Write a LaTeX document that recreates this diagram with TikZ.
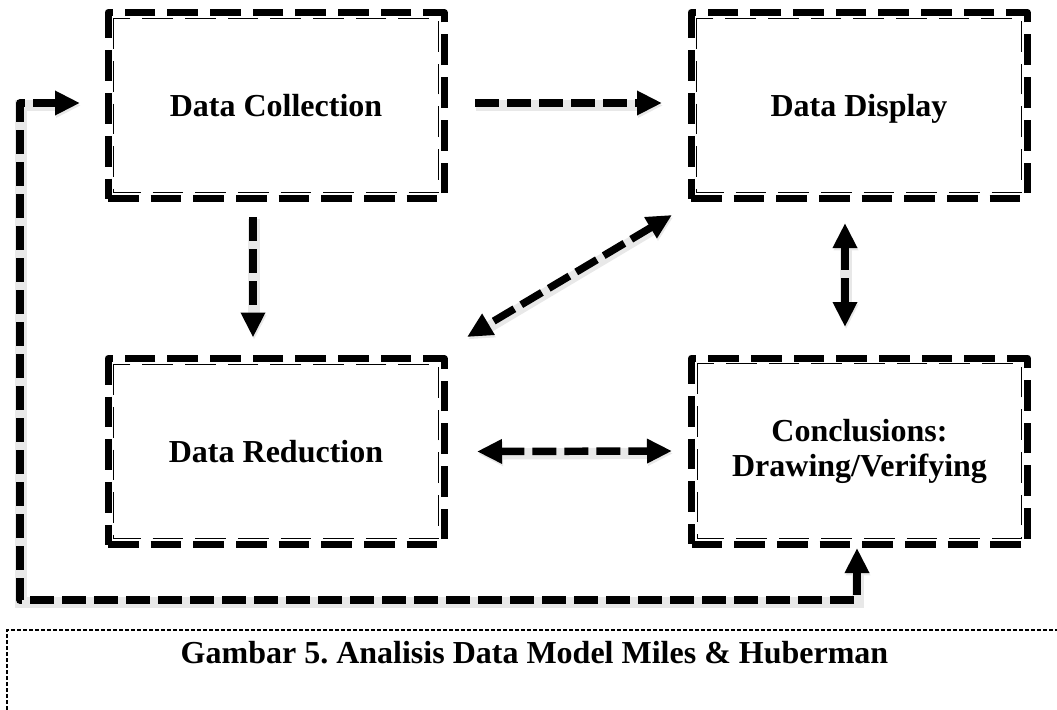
\documentclass[tikz,border=0pt]{standalone}
\usepackage{fontspec}
\setmainfont{Liberation Serif}
\usetikzlibrary{arrows.meta,calc}
\begin{document}
\frenchspacing
\begin{tikzpicture}[x=0.75pt,y=-0.75pt,
  >={Triangle[length=18.75pt,width=17.25pt]},
  box/.style={draw, line width=5.25pt, dash pattern=on 23pt off 9pt, line join=round,
    minimum width=252pt, minimum height=139.5pt, outer sep=0pt, inner sep=0pt,
    font=\fontsize{24}{26.25}\selectfont\bfseries, align=center},
  oneline/.style={text depth=0pt},
  innerline/.style={draw, line width=1pt, dash pattern=on 23pt off 9pt},
  conn/.style={line width=5.6pt, dash pattern=on 18pt off 6pt, line join=round,
    preaction={draw=black!9, line width=8.5pt, transform canvas={shift={(0.8pt,-1.8pt)}}}},
  capline/.style={line width=0.9pt, dash pattern=on 3pt off 1.5pt},
  captext/.style={font=\fontsize{24}{26.25}\selectfont\bfseries, anchor=base, inner sep=0pt}
]
\useasboundingbox (0,0) rectangle (1057,710);

% boxes
\node[box,oneline] (dc) at (276,105.5) {Data Collection};
\node[box,oneline] (dd) at (859,105.5) {Data Display};
\node[box,oneline] (dr) at (276,451.5) {Data Reduction};
\node[box] (cn) at (859.5,451) {Conclusions:\\Drawing/Verifying};
\foreach \b in {dc,dd,dr,cn}{
  \draw[innerline] ([shift={(5.75,5.75)}]\b.north west) rectangle ([shift={(-5.75,-5.75)}]\b.south east);
}

% connectors
\draw[conn,->] ([shift={(31,-2.5)}]dc.east) -- ([shift={(-29,-2.5)}]dd.west);
\draw[conn,->] ([shift={(-23,18.5)}]dc.south) -- ([shift={(-23,-21)}]dr.north);
\draw[conn,<->] ([shift={(-19,16.5)}]dd.south west) -- ([shift={(23,-21.5)}]dr.north east);
\draw[conn,<->] ([shift={(-14,24.5)}]dd.south) -- ([shift={(-14.5,-31)}]cn.north);
\draw[conn,<->] ([shift={(33,0)}]dr.east) -- ([shift={(-19.5,0)}]cn.west);
\coordinate (lc) at (20,600);
\draw[conn,<->] ([shift={(-28,-2.5)}]dc.west) -| (lc) -| ([shift={(-2.5,4)}]cn.south);

% caption frame and text
\coordinate (cf1) at (7,710);
\coordinate (cf2) at (7,630);
\coordinate (cf3) at (1057,630);
\draw[capline] (cf1) -- (cf2) -- (cf3);
\node[captext] (cap) at (534.5,663) {Gambar 5. Analisis Data Model Miles \& Huberman};
\end{tikzpicture}
\end{document}
